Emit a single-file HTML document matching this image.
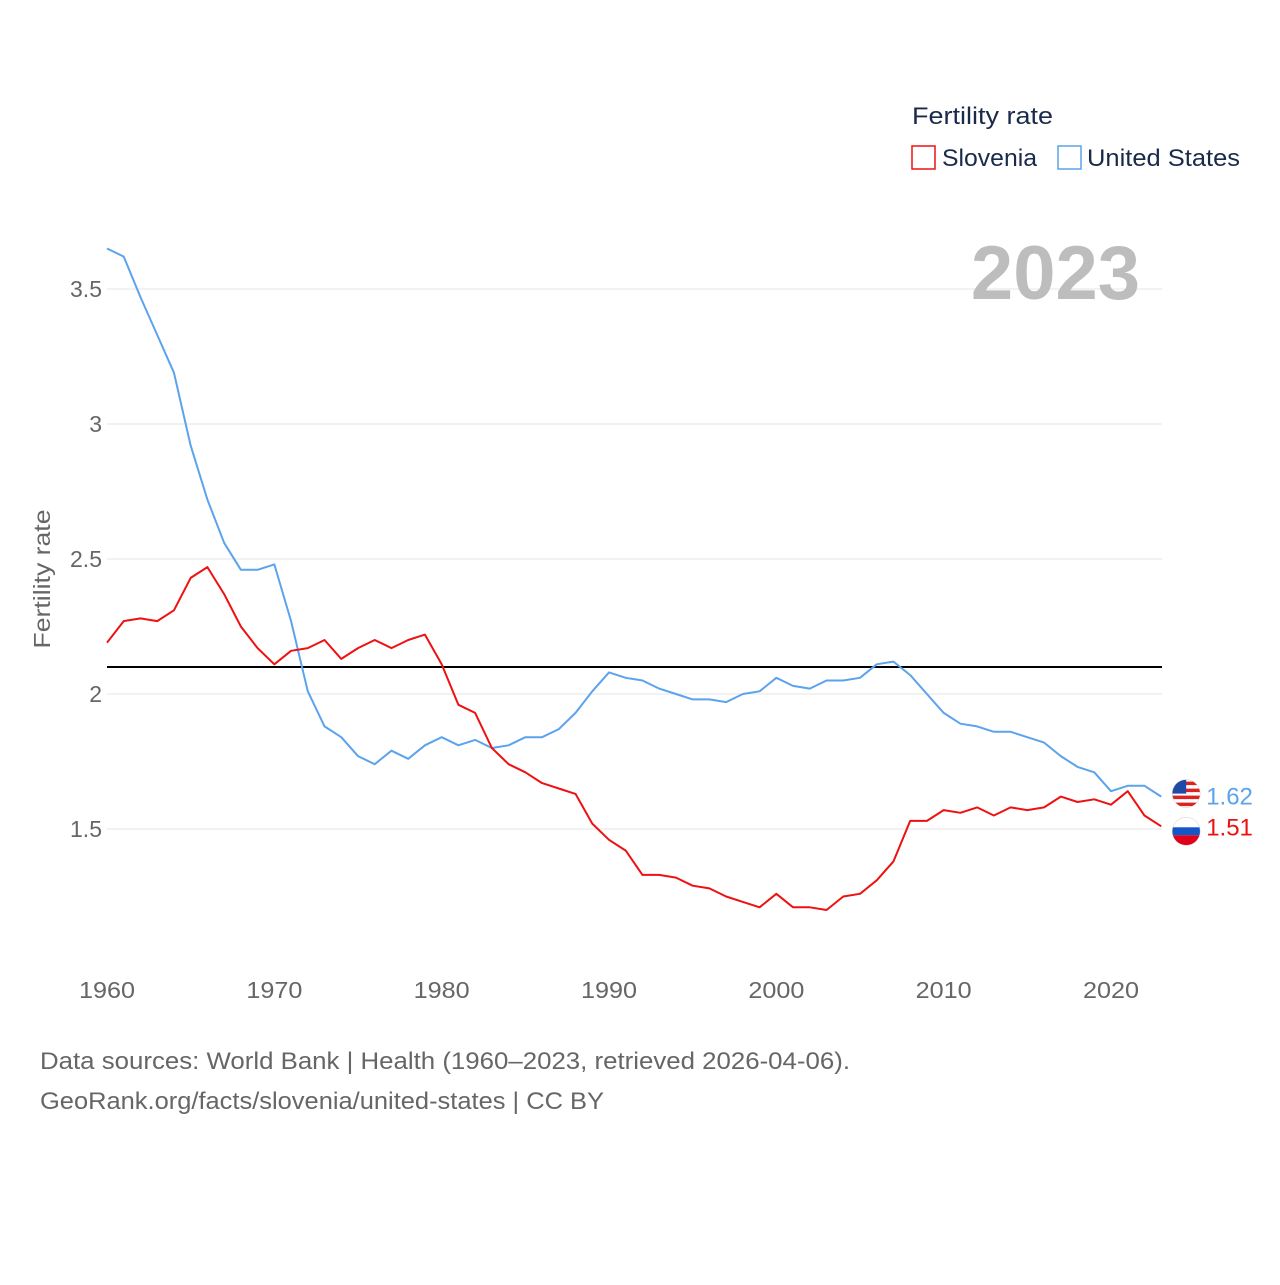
<!DOCTYPE html>
<html><head><meta charset="utf-8">
<style>
body{margin:0;background:#fff;font-family:"Liberation Sans",sans-serif;}
svg text{font-family:"Liberation Sans",sans-serif;}
</style></head>
<body>
<svg id="chart" width="1280" height="1280" viewBox="0 0 1280 1280">
  <defs id="defs"></defs>
  <g id="grid"></g>
  <g id="xticks"></g>
  <g id="yticks"></g>
  <text x="50" y="579" transform="rotate(-90 50 579)" text-anchor="middle" font-size="23" fill="#666" textLength="139" lengthAdjust="spacingAndGlyphs">Fertility rate</text>
  <text x="1140" y="299" text-anchor="end" font-size="76" font-weight="bold" fill="#bdbdbd">2023</text>
  <text x="912" y="124" font-size="24" fill="#1a2a4a" textLength="141" lengthAdjust="spacingAndGlyphs">Fertility rate</text>
  <g>
    <rect x="912" y="146" width="23" height="23" fill="none" stroke="#ee1111" stroke-width="1.5"/>
    <text x="942" y="166" font-size="24" fill="#1a2a4a" textLength="95" lengthAdjust="spacingAndGlyphs">Slovenia</text>
  </g>
  <g>
    <rect x="1058" y="146" width="23" height="23" fill="none" stroke="#5ba3ec" stroke-width="1.5"/>
    <text x="1087" y="166" font-size="24" fill="#1a2a4a" textLength="153" lengthAdjust="spacingAndGlyphs">United States</text>
  </g>
  <g id="series"></g>
  <text x="40" y="1069" font-size="24" fill="#666" textLength="810" lengthAdjust="spacingAndGlyphs">Data sources: World Bank | Health (1960–2023, retrieved 2026-04-06).</text>
  <text x="40" y="1109" font-size="24" fill="#666" textLength="564" lengthAdjust="spacingAndGlyphs">GeoRank.org/facts/slovenia/united-states | CC BY</text>
</svg>
<script>
const years = Array.from({length:64},(_,i)=>1960+i);
const usValues = [3.65,3.62,3.47,3.33,3.19,2.92,2.72,2.56,2.46,2.46,2.48,2.27,2.01,1.88,1.84,1.77,1.74,1.79,1.76,1.81,1.84,1.81,1.83,1.80,1.81,1.84,1.84,1.87,1.93,2.01,2.08,2.06,2.05,2.02,2.00,1.98,1.98,1.97,2.00,2.01,2.06,2.03,2.02,2.05,2.05,2.06,2.11,2.12,2.07,2.00,1.93,1.89,1.88,1.86,1.86,1.84,1.82,1.77,1.73,1.71,1.64,1.66,1.66,1.62];
const siValues = [2.19,2.27,2.28,2.27,2.31,2.43,2.47,2.37,2.25,2.17,2.11,2.16,2.17,2.20,2.13,2.17,2.20,2.17,2.20,2.22,2.11,1.96,1.93,1.80,1.74,1.71,1.67,1.65,1.63,1.52,1.46,1.42,1.33,1.33,1.32,1.29,1.28,1.25,1.23,1.21,1.26,1.21,1.21,1.20,1.25,1.26,1.31,1.38,1.53,1.53,1.57,1.56,1.58,1.55,1.58,1.57,1.58,1.62,1.60,1.61,1.59,1.64,1.55,1.51];
const yTicks = [1.5,2,2.5,3,3.5];
const yTickLabels = ["1.5","2","2.5","3","3.5"];
const xTicks = [1960,1970,1980,1990,2000,2010,2020];
const refValue = 2.1;

const NS="http://www.w3.org/2000/svg";
const xS = y => 107 + (y-1960)*(1004/60);
const yS = v => 694 - (v-2)*270;
function mk(tag,attrs,parent){const e=document.createElementNS(NS,tag);for(const k in attrs)e.setAttribute(k,attrs[k]);parent.appendChild(e);return e;}
const grid=document.getElementById('grid'), yt=document.getElementById('yticks'), xt=document.getElementById('xticks'), ser=document.getElementById('series'), defs=document.getElementById('defs');
yTicks.forEach((v,i)=>{
  const l=mk('line',{x1:107,x2:1162,y1:yS(v),y2:yS(v),stroke:'#e6e6e6','stroke-width':1},grid);
  
  
  const t=mk('text',{x:102,y:yS(v)+8,'text-anchor':'end','font-size':23,fill:'#666'},yt);
  t.textContent=yTickLabels[i];
  
  
});
xTicks.forEach(y=>{
  const t=mk('text',{x:xS(y),y:998,'text-anchor':'middle','font-size':23,fill:'#666',textLength:56,lengthAdjust:'spacingAndGlyphs'},xt);
  t.textContent=y;
  
  
});
const ref=mk('line',{x1:107,x2:1162,y1:yS(refValue),y2:yS(refValue),stroke:'#000','stroke-width':2},ser);


function line(vals,color,name){
  const p=mk('polyline',{points:vals.map((v,i)=>xS(years[i])+','+yS(v)).join(' '),fill:'none',stroke:color,'stroke-width':2,'stroke-linejoin':'round'},ser);
  
  
}
line(usValues,'#5ba3ec','united-states-line');
line(siValues,'#ee1111','slovenia-line');
function endMark(vals,color,name,kind){
  const last=vals[vals.length-1], cx=xS(years[years.length-1])+25, cy=yS(last)+(kind==='si'?5:-3);
  const cp=mk('clipPath',{id:'clip-'+kind},defs);
  mk('circle',{cx:cx,cy:cy,r:14},cp);
  const g=mk('g',{'clip-path':'url(#clip-'+kind+')'},ser);
  
  
  if(kind==='us'){
    mk('rect',{x:cx-14,y:cy-14,width:28,height:28,fill:'#fff'},g);
    for(let k=0;k<4;k++) mk('rect',{x:cx-14,y:cy-12+k*7,width:28,height:3.5,fill:'#d22'},g);
    mk('rect',{x:cx-14,y:cy-14,width:14,height:14,fill:'#1f4aa8'},g);
  } else {
    mk('rect',{x:cx-14,y:cy-14,width:28,height:10,fill:'#fff'},g);
    mk('rect',{x:cx-14,y:cy-4,width:28,height:8,fill:'#1455c8'},g);
    mk('rect',{x:cx-14,y:cy+4,width:28,height:10,fill:'#e0001a'},g);
  }
  mk('circle',{cx:cx,cy:cy,r:14,fill:'none',stroke:'#ccc','stroke-width':0.5},ser);
  const t=mk('text',{x:cx+20,y:yS(last)+(kind==='si'?9:8),'font-size':24,fill:color},ser);
  t.textContent=last.toFixed(2);
  
  
}
endMark(usValues,'#5ba3ec','united-states','us');
endMark(siValues,'#ee1111','slovenia','si');
</script>
</body></html>
